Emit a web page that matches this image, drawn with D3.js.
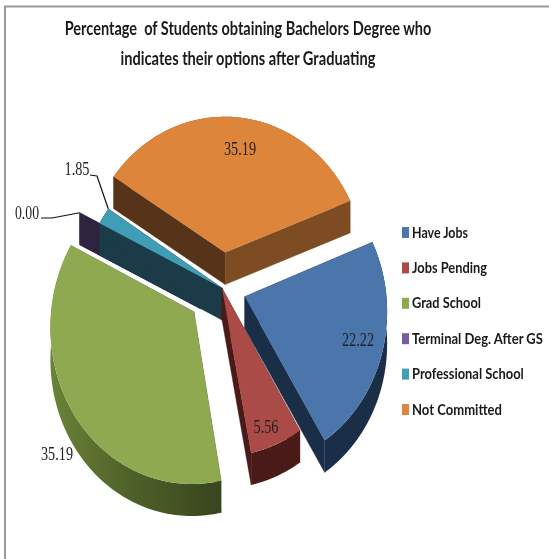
<!DOCTYPE html>
<html>
<head>
<meta charset="utf-8">
<script src="https://cdn.jsdelivr.net/npm/d3@7"></script>
<style>
  html, body { margin: 0; padding: 0; background: #fff; }
  svg { display: block; filter: blur(0.6px); }
</style>
</head>
<body>
<div id="chart"></div>
<script>
// DATA
// ------------------------------------------------------------------

var categories = ["Have Jobs", "Jobs Pending", "Grad School", "Terminal Deg. After GS", "Professional School", "Not Committed"];
var values = [22.22, 5.56, 35.19, 0.00, 1.85, 35.19];
var titleLines = ["Percentage  of Students obtaining Bachelors Degree who", "indicates their options after Graduating"];

// STYLE
// ------------------------------------------------------------------

var topColors = ["#4a76ab", "#ab4b48", "#8fa951", "#7a5b9c", "#409db6", "#dd853b"];
var wallColors = ["#1a2e47", "#4a1a18", "#4a5c28", "#2e2440", "#1a3b47", "#57331a"];
var orangeSide = "#7d4c22";
var explode = [24, 0, 35, 24, 0, 33];
var drawOrder = [3, 5, 4, 0, 1, 2];
var legendWidths = [56, 75, 69, 131, 112, 90];
var titleWidths = [367, 255];
var labelPos = [[358, 340, 32], [266, 427, 25], [57, 454, 32], [27, 213, 24], [77, 169, 25], [240, 149, 32]];

// CANVAS
// ------------------------------------------------------------------

var width = 549,
    height = 559;

var svg = d3.select("#chart")
    .append("svg")
    .attr("width", width)
    .attr("height", height);

svg.append("rect").attr("width", width).attr("height", height).attr("fill", "#fff");

// frame of the pasted chart
svg.append("path")
    .attr("d", "M5,559V6.5H549")
    .attr("fill", "none")
    .attr("stroke", "#999")
    .attr("stroke-width", 2);

// squeeze a text sideways to the width it has in the picture
function fitText(sel, widthOf, xOf, yOf) {
  sel.attr("transform", function(d, i) {
    var sx = widthOf(d, i) / this.getComputedTextLength();
    return "translate(" + xOf(d, i) + "," + yOf(d, i) + ") scale(" + sx + ",1)";
  });
}

// TITLE
// ------------------------------------------------------------------

svg.selectAll(".title")
    .data(titleLines)
    .enter().append("text")
    .attr("class", "title")
    .attr("text-anchor", "middle")
    .style("font", "bold 19px Lato, sans-serif")
    .style("white-space", "pre")
    .attr("fill", "#1a1a1a")
    .text(function(d) { return d; })
    .call(fitText,
      function(d, i) { return titleWidths[i]; },
      function() { return 248; },
      function(d, i) { return 35 + i * 30; });

// PIE
// ------------------------------------------------------------------

var cx = 222, cy = 288,
    radius = 141,
    tilt = 1.1,
    persp = 0.0006,
    depth = 32,
    startDeg = 69;

var pie = d3.pie().sort(null).value(function(d) { return d; })
    .startAngle(startDeg * Math.PI / 180)
    .endAngle((startDeg + 360) * Math.PI / 180);
var arcs = pie(values);

// ground-plane polar position to screen, nearer points get a bit bigger
function project(off, r, a, mid) {
  var u = off * Math.sin(mid) + r * Math.sin(a),
      v = -off * Math.cos(mid) - r * Math.cos(a),
      s = 1 + persp * v;
  return [cx + u * s, cy + v * tilt * s];
}

var line = d3.line().curve(d3.curveLinear);

function drop(p) { return [p[0], p[1] + depth]; }

function rim(d, off, mid) {
  var n = Math.max(2, Math.ceil((d.endAngle - d.startAngle) / 0.02));
  return d3.range(n + 1).map(function(k) {
    return project(off, radius, d.startAngle + (d.endAngle - d.startAngle) * k / n, mid);
  });
}

var defs = svg.append("defs");

function wallGradient(id, stops) {
  var g = defs.append("linearGradient").attr("id", id)
      .attr("gradientUnits", "objectBoundingBox");
  stops.forEach(function(s) {
    g.append("stop").attr("offset", s[0]).attr("stop-color", s[1]);
  });
}
wallGradient("greenWall", [[0, "#6b8338"], [0.45, "#4f6229"], [1, "#39451e"]]);

drawOrder.forEach(function(i) {
  var d = arcs[i],
      mid = (d.startAngle + d.endAngle) / 2,
      off = explode[i],
      g = svg.append("g").attr("class", "slice");

  var apex = project(off, 0, 0, mid),
      edge = rim(d, off, mid),
      first = edge[0],
      last = edge[edge.length - 1];

  function outerWall() {
    // the far part ends up under the top face
    g.append("path")
        .attr("d", line(edge.concat(edge.map(drop).reverse())) + "Z")
        .attr("fill", i === 2 ? "url(#greenWall)" : (i === 5 ? orangeSide : wallColors[i]));
  }

  function radialWalls() {
    // the zero slice only shows one radial wall
    [[apex, first], [apex, last]].forEach(function(w, k) {
      var fill = wallColors[i];
      if (i === 5 && k === 1) fill = orangeSide;
      g.append("path")
          .attr("d", line([w[0], w[1], drop(w[1]), drop(w[0])]) + "Z")
          .attr("fill", fill)
          .attr("stroke", fill)
          .attr("stroke-width", 0.4);
    });
  }

  // orange has both radial walls in front, its outer wall must not show past them
  if (i === 5) {
    outerWall();
    radialWalls();
  } else {
    radialWalls();
    outerWall();
  }

  if (values[i] > 0) {
    g.append("path")
        .attr("d", line([apex].concat(edge)) + "Z")
        .attr("fill", topColors[i]);
  }
});

// LABELS
// ------------------------------------------------------------------

svg.selectAll(".value")
    .data(values)
    .enter().append("text")
    .attr("class", "value")
    .attr("text-anchor", "middle")
    .style("font", "18px 'Liberation Serif', serif")
    .attr("fill", "#222")
    .text(function(d) { return d.toFixed(2); })
    .call(fitText,
      function(d, i) { return labelPos[i][2]; },
      function(d, i) { return labelPos[i][0]; },
      function(d, i) { return labelPos[i][1] + 6; });

// leader lines from the two small slices
[3, 4].forEach(function(i) {
  var d = arcs[i],
      mid = (d.startAngle + d.endAngle) / 2,
      end = i === 3 ? project(explode[i], radius, d.startAngle, mid) : project(explode[i], radius, d.endAngle, mid),
      pts = i === 3
        ? [[labelPos[i][0] + 14, labelPos[i][1] + 5], [52, 218], end]
        : [[labelPos[i][0] + 13, labelPos[i][1] + 6], [97, 176], end];
  svg.append("path")
      .attr("d", line(pts))
      .attr("fill", "none")
      .attr("stroke", "#111")
      .attr("stroke-width", 1.2);
});

// LEGEND
// ------------------------------------------------------------------

var legendY = d3.scalePoint()
    .domain(categories)
    .range([232, 409]);

var legend = svg.selectAll(".legend")
    .data(categories)
    .enter().append("g")
    .attr("class", "legend")
    .attr("transform", function(d) { return "translate(402," + legendY(d) + ")"; });

legend.append("rect")
    .attr("y", -5)
    .attr("width", 7)
    .attr("height", 11)
    .attr("fill", function(d, i) { return topColors[i]; });

legend.append("text")
    .style("font", "bold 16px Lato, sans-serif")
    .attr("fill", "#1a1a1a")
    .text(function(d) { return d; })
    .call(fitText,
      function(d, i) { return legendWidths[i]; },
      function() { return 10; },
      function() { return 5.5; });
</script>
</body>
</html>
